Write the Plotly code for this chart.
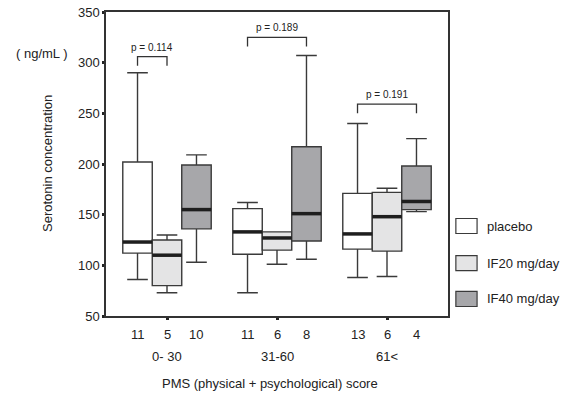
import plotly.graph_objects as go

# ---- data ----
groups = ["0- 30", "31-60", "61<"]
treatments = ["placebo", "IF20 mg/day", "IF40 mg/day"]
colors = ["#ffffff", "#e4e4e5", "#a7a7aa"]

upper = [[290, 162, 240], [130, 133, 176], [209, 307, 225]]
q3 = [[202, 156, 171], [125, 133, 172], [199, 217, 198]]
median = [[123, 133, 131], [110, 127, 148], [155, 151, 163]]
q1 = [[112, 111, 116], [80, 115, 114], [136, 124, 155]]
lower = [[86, 73, 88], [73, 101, 89], [103, 106, 153]]

n_counts = [[11, 11, 13], [5, 6, 6], [10, 8, 4]]

p_labels = ["p = 0.114", "p = 0.189", "p = 0.191"]
p_pairs = [(0, 1), (0, 2), (0, 2)]  # treatment indices compared in each group
p_bracket_top = [306, 325, 259]
p_bracket_drop = 9

offsets = [-0.268, 0.0, 0.268]
box_width = 0.268

fig = go.Figure()

for t in range(3):
    xs = [g + offsets[t] for g in range(3)]
    fig.add_trace(go.Box(
        x=xs, q1=q1[t], median=median[t], q3=q3[t],
        lowerfence=lower[t], upperfence=upper[t],
        width=box_width, whiskerwidth=0.7,
        fillcolor=colors[t], line=dict(color="#3a3a3a", width=1.4),
        boxpoints=False, name=treatments[t], showlegend=False,
        hoverinfo="skip",
    ))

# thick median lines
mx, my = [], []
for t in range(3):
    for g in range(3):
        c = g + offsets[t]
        mx += [c - box_width / 2, c + box_width / 2, None]
        my += [median[t][g], median[t][g], None]
fig.add_trace(go.Scatter(x=mx, y=my, mode="lines",
                         line=dict(color="#1e1e1e", width=3.5),
                         showlegend=False, hoverinfo="skip"))

# p-value brackets
bx, by = [], []
for g in range(3):
    a, b = p_pairs[g]
    xa, xb = g + offsets[a], g + offsets[b]
    top = p_bracket_top[g]
    bx += [xa, xa, xb, xb, None]
    by += [top - p_bracket_drop, top, top, top - p_bracket_drop, None]
    fig.add_annotation(x=(xa + xb) / 2, y=top, yshift=2, text=p_labels[g],
                       showarrow=False, yanchor="bottom",
                       font=dict(size=10, color="#222"))
fig.add_trace(go.Scatter(x=bx, y=by, mode="lines",
                         line=dict(color="#333", width=1.3),
                         showlegend=False, hoverinfo="skip"))

# n labels and group labels
fig.add_annotation(x=-0.61, y=0, xref="x", yref="paper", text="n=",
                   showarrow=False, yanchor="top", yshift=-9,
                   font=dict(size=13, color="#222"))
for g in range(3):
    for t in range(3):
        fig.add_annotation(x=g + offsets[t], y=0, xref="x", yref="paper",
                           text=str(n_counts[t][g]), showarrow=False,
                           yanchor="top", yshift=-9,
                           font=dict(size=13, color="#222"))
    fig.add_annotation(x=g, y=0, xref="x", yref="paper", text=groups[g],
                       showarrow=False, yanchor="top", yshift=-31,
                       font=dict(size=13, color="#222"))

fig.add_annotation(x=0.936, y=0, xref="x", yref="paper",
                   text="PMS (physical + psychological) score",
                   showarrow=False, yanchor="top", yshift=-58,
                   font=dict(size=13, color="#222"))

fig.add_annotation(x=-0.1725, y=0.5, xref="paper", yref="paper",
                   text="Serotonin concentration", textangle=-90,
                   showarrow=False, xanchor="center", yanchor="middle",
                   font=dict(size=13, color="#222"))
fig.add_annotation(x=-0.187, y=0.862, xref="paper", yref="paper",
                   text="( ng/mL )", showarrow=False,
                   xanchor="center", yanchor="middle",
                   font=dict(size=13, color="#222"))

# manual legend
leg_y = [0.296, 0.174, 0.056]
for t in range(3):
    fig.add_shape(type="rect", xref="paper", yref="paper",
                  x0=1.023, x1=1.085, y0=leg_y[t] - 0.0247, y1=leg_y[t] + 0.0247,
                  fillcolor=colors[t], line=dict(color="#3a3a3a", width=1.2))
    fig.add_annotation(x=1.108, y=leg_y[t], xref="paper", yref="paper",
                       text=treatments[t], showarrow=False,
                       xanchor="left", yanchor="middle",
                       font=dict(size=13, color="#222"))

fig.update_layout(
    width=576, height=395,
    margin=dict(l=106, r=128, t=12, b=79, pad=0),
    paper_bgcolor="white", plot_bgcolor="white",
    boxmode="overlay", showlegend=False,
    font=dict(family="Liberation Sans, Arial, sans-serif", size=13, color="#222"),
)
fig.update_xaxes(range=[-0.5545, 2.5545], showgrid=False, zeroline=False,
                 automargin=False,
                 showline=True, linecolor="#333", linewidth=1.5, mirror=True,
                 tickvals=[0, 1, 2], showticklabels=False,
                 ticks="outside", ticklen=2, tickwidth=3, tickcolor="#222")
fig.update_yaxes(range=[50, 350], showgrid=False, zeroline=False,
                 automargin=False,
                 showline=True, linecolor="#333", linewidth=1.5, mirror=True,
                 tickvals=[50, 100, 150, 200, 250, 300, 350],
                 ticks="outside", ticklen=2, tickwidth=3, tickcolor="#222",
                 tickfont=dict(size=13, color="#222"))

fig.write_html("out.html", config={"displayModeBar": False},
               post_script="document.body.style.margin='0';document.body.style.padding='0';")
